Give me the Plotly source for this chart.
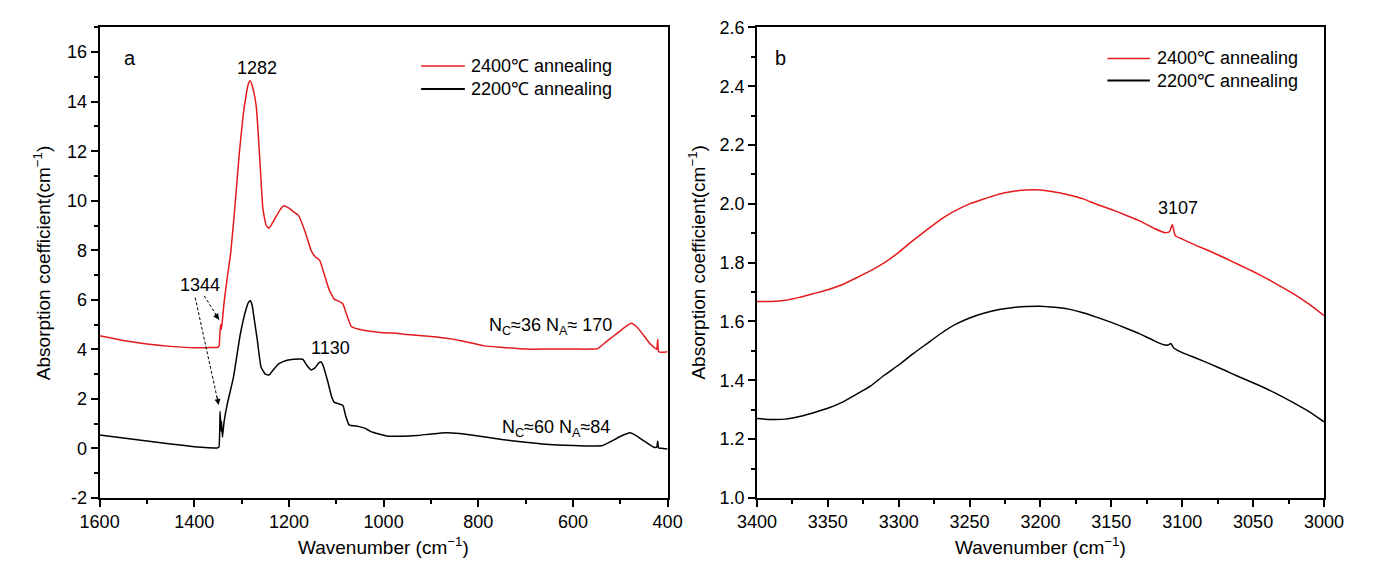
import plotly.graph_objects as go

# ---------------- panel a : 1600-400 cm-1 ----------------
wn_a_2400 = [1600, 1550, 1500, 1450, 1400, 1370, 1350, 1347.5, 1346, 1344.5, 1343, 1341, 1337,
             1331, 1323, 1314, 1305, 1297, 1291, 1286, 1282, 1277, 1269, 1262, 1255, 1248,
             1242, 1232, 1220, 1211, 1200, 1190, 1180, 1165, 1153, 1145, 1135, 1125, 1115,
             1104, 1095, 1086, 1078, 1068, 1050, 1028, 1000, 980, 950, 900, 876, 850, 820,
             788, 750, 700, 650, 600, 560, 548, 530, 510, 490, 477, 465, 450, 438, 428,
             423, 421, 419, 410, 400]
abs_a_2400 = [4.55, 4.36, 4.22, 4.12, 4.06, 4.07, 4.08, 4.15, 4.6, 5.0, 4.8, 5.1, 5.9,
              6.8, 7.9, 9.8, 11.9, 13.4, 14.2, 14.7, 14.84, 14.6, 13.8, 11.8, 9.67, 9.0,
              8.89, 9.2, 9.6, 9.8, 9.7, 9.55, 9.41, 8.7, 7.98, 7.75, 7.59, 7.0, 6.4,
              6.02, 5.95, 5.83, 5.4, 4.92, 4.8, 4.73, 4.67, 4.66, 4.6, 4.52, 4.47, 4.4, 4.28,
              4.14, 4.08, 4.01, 4.01, 4.01, 4.01, 4.03, 4.3, 4.6, 4.9, 5.05, 4.9, 4.55, 4.25, 4.07,
              4.0, 4.4, 3.9, 3.88, 3.9]

wn_a_2200 = [1600, 1550, 1500, 1450, 1400, 1370, 1352, 1348, 1345.5, 1343.5, 1342.5, 1340.5,
             1337, 1331, 1317, 1303, 1291, 1286, 1282, 1278, 1274, 1267, 1259, 1250, 1242,
             1232, 1221, 1204, 1190, 1171, 1162, 1153, 1145, 1137, 1132, 1127, 1118, 1110,
             1104, 1095, 1086, 1080, 1073, 1054, 1040, 1028, 1010, 993, 960, 930, 900, 869,
             840, 800, 750, 700, 650, 600, 560, 537, 520, 500, 480, 465, 450, 438, 429, 423,
             421, 419, 410, 400]
abs_a_2200 = [0.54, 0.42, 0.30, 0.18, 0.07, 0.03, 0.02, 0.05, 1.5, 0.7, 1.1, 0.45,
              1.08, 1.73, 2.9, 4.59, 5.6, 5.88, 5.96, 5.8, 5.3, 4.4, 3.29, 3.0, 2.97,
              3.2, 3.42, 3.56, 3.6, 3.6, 3.35, 3.17, 3.25, 3.45, 3.49, 3.3, 2.7, 2.1,
              1.86, 1.8, 1.73, 1.3, 0.95, 0.89, 0.82, 0.69, 0.58, 0.50, 0.49, 0.52, 0.58, 0.63,
              0.6, 0.5, 0.36, 0.25, 0.16, 0.12, 0.1, 0.12, 0.28, 0.48, 0.63, 0.5, 0.3, 0.15, 0.05, 0.05,
              0.3, 0.02, 0.0, -0.02]

# ---------------- panel b : 3400-3000 cm-1 ----------------
wn_b_2400 = [3400, 3390, 3380, 3370, 3360, 3350, 3340, 3330, 3320, 3310, 3300, 3290, 3280,
             3270, 3262, 3250, 3241, 3230, 3220, 3210, 3200, 3190, 3180, 3170, 3160, 3150,
             3141, 3130, 3120, 3112, 3109, 3107, 3105, 3100, 3090, 3080, 3070, 3060, 3050,
             3040, 3030, 3020, 3010, 3000]
abs_b_2400 = [1.668, 1.668, 1.672, 1.682, 1.695, 1.708, 1.725, 1.748, 1.772, 1.80, 1.835, 1.875, 1.912,
              1.948, 1.972, 2.0, 2.015, 2.032, 2.042, 2.047, 2.047, 2.04, 2.03, 2.017, 1.998, 1.981,
              1.964, 1.942, 1.917, 1.902, 1.905, 1.93, 1.892, 1.88, 1.858, 1.838, 1.816, 1.793, 1.77,
              1.745, 1.718, 1.69, 1.657, 1.62]

wn_b_2200 = [3400, 3390, 3380, 3370, 3360, 3350, 3340, 3330, 3320, 3310, 3300, 3290, 3280,
             3270, 3260, 3250, 3240, 3230, 3220, 3210, 3200, 3190, 3180, 3170, 3160, 3150,
             3140, 3130, 3120, 3113, 3110, 3108, 3106, 3100, 3090, 3080, 3070, 3060, 3046,
             3035, 3022, 3010, 3000]
abs_b_2200 = [1.27, 1.267, 1.268, 1.277, 1.29, 1.305, 1.325, 1.352, 1.38, 1.418, 1.452, 1.49, 1.525,
              1.56, 1.59, 1.612, 1.628, 1.640, 1.647, 1.651, 1.652, 1.648, 1.642, 1.63, 1.614, 1.597,
              1.578, 1.558, 1.535, 1.521, 1.52, 1.525, 1.51, 1.494, 1.475, 1.455, 1.434, 1.412, 1.383,
              1.358, 1.325, 1.292, 1.259]

series_names = ["2400\u2103 annealing", "2200\u2103 annealing"]
series_colors = ["#e41a1c", "#000000"]

x_ticks_a = [1600, 1400, 1200, 1000, 800, 600, 400]
y_ticks_a = [-2, 0, 2, 4, 6, 8, 10, 12, 14, 16]
y_ticklabels_a = ["-2", "0", "2", "4", "6", "8", "10", "12", "14", "16"]
x_ticks_b = [3400, 3350, 3300, 3250, 3200, 3150, 3100, 3050, 3000]
y_ticks_b = [1.0, 1.2, 1.4, 1.6, 1.8, 2.0, 2.2, 2.4, 2.6]

FONT = "Liberation Sans, Arial, sans-serif"
W, H = 1377, 570

fig = go.Figure()

panels = [
    ("x", "y", [(wn_a_2400, abs_a_2400), (wn_a_2200, abs_a_2200)]),
    ("x2", "y2", [(wn_b_2400, abs_b_2400), (wn_b_2200, abs_b_2200)]),
]
for xa, ya, series in panels:
    for (wn, ab), name, col in zip(series, series_names, series_colors):
        fig.add_trace(go.Scatter(
            x=wn, y=ab, mode="lines", name=name, xaxis=xa, yaxis=ya,
            line=dict(color=col, width=1.5, shape="spline", smoothing=0.4),
            showlegend=False,
        ))

def axis_style(**kw):
    base = dict(
        showline=True, linecolor="black", linewidth=1.8, mirror=True,
        ticks="outside", ticklen=7, tickwidth=1.5, tickcolor="black",
        showgrid=False, zeroline=False,
        tickfont=dict(family=FONT, size=18, color="black"),
    )
    base.update(kw)
    return base

x_dom_a = [82 / W, 667 / W]
x_dom_b = [759 / W, 1343 / W]
y_dom = [1 - 505.7 / H, 1 - 18 / H]

fig.update_layout(
    width=W, height=H,
    margin=dict(l=0, r=0, t=0, b=0),
    paper_bgcolor="white", plot_bgcolor="white",
    showlegend=False,
    font=dict(family=FONT, size=17, color="black"),
    xaxis=axis_style(domain=x_dom_a, anchor="y", range=[1600, 400],
                     tickvals=x_ticks_a,
                     minor=dict(ticks="outside", ticklen=4, dtick=100, tick0=0,
                                tickcolor="black", tickwidth=1.5)),
    yaxis=axis_style(domain=y_dom, anchor="x", range=[-2, 17],
                     tickvals=y_ticks_a, ticktext=y_ticklabels_a,
                     minor=dict(ticks="outside", ticklen=4, dtick=1, tick0=0,
                                tickcolor="black", tickwidth=1.5)),
    xaxis2=axis_style(domain=x_dom_b, anchor="y2", range=[3400, 3000],
                      tickvals=x_ticks_b,
                      minor=dict(ticks="outside", ticklen=4, dtick=25, tick0=0,
                                 tickcolor="black", tickwidth=1.5)),
    yaxis2=axis_style(domain=y_dom, anchor="x2", range=[1.0, 2.6],
                      tickvals=y_ticks_b, tickformat=".1f",
                      minor=dict(ticks="outside", ticklen=4, dtick=0.1, tick0=0,
                                 tickcolor="black", tickwidth=1.5)),
)

annots = []
shapes = []

# axis titles
y_mid = 1 - 262 / H
for xpix in (22, 697):
    annots.append(dict(text="Absorption coefficient(cm<sup>\u22121</sup>)", xref="paper", yref="paper",
                       x=xpix / W, y=y_mid, textangle=-90, showarrow=False,
                       xanchor="center", yanchor="middle", font=dict(size=19)))
for xpix in (374.5, 1051):
    annots.append(dict(text="Wavenumber (cm<sup>\u22121</sup>)", xref="paper", yref="paper",
                       x=xpix / W, y=1 - 556 / H, showarrow=False,
                       xanchor="center", yanchor="middle", font=dict(size=19)))

# legends drawn inside each panel
legend_specs = [
    ("x domain", "y domain", 0.566, 0.643, 0.650, [0.918, 0.869]),
    ("x2 domain", "y2 domain", 0.618, 0.693, 0.702, [0.934, 0.887]),
]
for xr, yr, x0, x1, xt, ys in legend_specs:
    for yy, name, col in zip(ys, series_names, series_colors):
        shapes.append(dict(type="line", xref=xr, yref=yr, x0=x0, x1=x1, y0=yy, y1=yy,
                           line=dict(color=col, width=1.5 if col != "#000000" else 2)))
        annots.append(dict(text=name, xref=xr, yref=yr, x=xt, y=yy, showarrow=False,
                           xanchor="left", yanchor="middle", font=dict(size=18)))

# panel letters
annots.append(dict(text="a", xref="x", yref="y", x=1535, y=15.78, showarrow=False,
                   xanchor="center", yanchor="middle", font=dict(size=20)))
annots.append(dict(text="b", xref="x2", yref="y2", x=3383.6, y=2.497, showarrow=False,
                   xanchor="center", yanchor="middle", font=dict(size=20)))

# peak labels
peak_labels_a = [("1282", 1268, 15.35), ("1344", 1387, 6.6), ("1130", 1112, 4.05),
                 ("N<sub>C</sub>\u224836 N<sub>A</sub>\u2248 170", 647, 4.92),
                 ("N<sub>C</sub>\u224860 N<sub>A</sub>\u224884", 636, 0.8)]
for txt, xv, yv in peak_labels_a:
    annots.append(dict(text=txt, xref="x", yref="y", x=xv, y=yv, showarrow=False,
                       xanchor="center", yanchor="middle", font=dict(size=18)))
annots.append(dict(text="3107", xref="x2", yref="y2", x=3102.7, y=1.986, showarrow=False,
                   xanchor="center", yanchor="middle", font=dict(size=18)))

# dashed pointers from the 1344 label to both curves
pointers = [((1398, 6.09), (1348.5, 1.75), -2, -10),
            ((1379, 6.16), (1347.5, 5.2), -5, -7)]
for (sx, sy), (tx, ty), ax, ay in pointers:
    shapes.append(dict(type="line", xref="x", yref="y", x0=sx, y0=sy, x1=tx, y1=ty,
                       line=dict(color="black", width=1, dash="3px,2px")))
    annots.append(dict(text="", xref="x", yref="y", x=tx, y=ty, ax=ax, ay=ay,
                       showarrow=True, arrowhead=2, arrowsize=1.2, arrowwidth=1,
                       arrowcolor="black", standoff=0))

fig.update_layout(annotations=annots, shapes=shapes)

fig.write_html("out.html")
